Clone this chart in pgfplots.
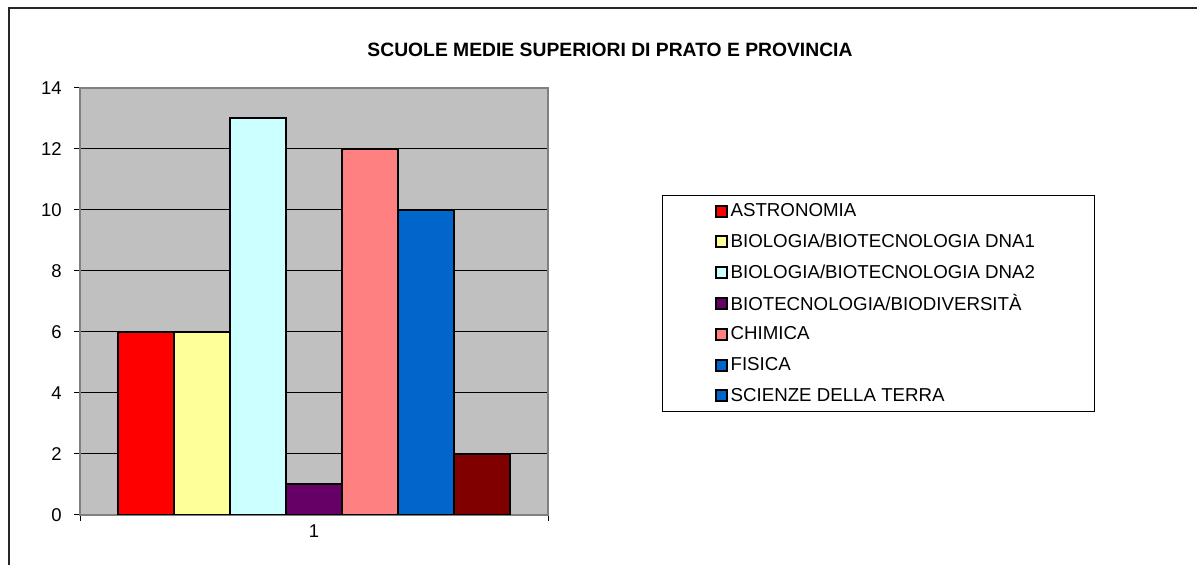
\documentclass[border=0pt]{standalone}
\usepackage{pgfplots}
\pgfplotsset{compat=1.18}
\usepackage{fontspec}
\setmainfont{Liberation Sans}
\definecolor{cA}{HTML}{FF0000}
\definecolor{cB}{HTML}{FFFF99}
\definecolor{cC}{HTML}{CCFFFF}
\definecolor{cD}{HTML}{660066}
\definecolor{cE}{HTML}{FF8080}
\definecolor{cF}{HTML}{0066CC}
\definecolor{cG}{HTML}{800000}
\definecolor{plotbg}{HTML}{C0C0C0}
\definecolor{plotborder}{HTML}{808080}
\newcommand{\legbox}[1]{\makebox[364pt][l]{#1}}
\begin{document}
\fontsize{15.4}{18}\selectfont
\begin{tikzpicture}[x=1pt,y=1pt]
\path[use as bounding box] (0,0) rectangle (1197,565);
\draw[line width=1.5pt, black!85] (9,-5) -- (9,557) -- (1202,557);
\node[font=\bfseries\fontsize{19.3}{22}\selectfont] at (610,515) {SCUOLE MEDIE SUPERIORI DI PRATO E PROVINCIA};
\begin{axis}[
  at={(80pt,50pt)}, anchor=south west,
  scale only axis, width=468pt, height=427pt,
  ymin=0, ymax=14, ytick={0,2,...,14},
  xmin=-0.5, xmax=0.5,
  xtick={-0.5,0.5}, xticklabels={,},
  extra x ticks={0}, extra x tick labels={1},
  extra x tick style={major tick length=0pt},
  ytick pos=left, xtick pos=bottom,
  ybar=0pt, bar width=56pt,
  axis background/.style={fill=plotbg},
  axis line style={draw=plotborder, line width=2pt},
  ymajorgrids, grid style={black, line width=1pt},
  tick align=outside, major tick length=6pt,
  tick style={black, line width=1pt},
  /pgf/number format/assume math mode=true,
  ticklabel style={font=\fontsize{18.5}{21}\selectfont},
  yticklabel style={xshift=-7pt},
  xticklabel style={yshift=-4pt},
  legend cell align=left,
  legend image code/.code={%
    \path (-52pt,0pt) (14pt,0pt);
    \draw[#1,line width=2pt,draw=black] (0pt,-5.5pt) rectangle (11pt,5.5pt);},
  legend style={at={(1.2436,0.7494)}, anchor=north west,
    draw=black, line width=1.2pt, fill=white,
    inner xsep=0pt, inner ysep=0pt, row sep=0pt, column sep=0pt,
    nodes={inner sep=0pt, minimum height=30.8pt},
    font=\fontsize{18.7}{22}\selectfont},
  every axis plot/.append style={draw=black, line width=2pt},
]
\addplot[fill=cA] coordinates {(0,6)};
\addlegendentry{\legbox{ASTRONOMIA}}
\addplot[fill=cB] coordinates {(0,6)};
\addlegendentry{\legbox{BIOLOGIA/BIOTECNOLOGIA DNA1}}
\addplot[fill=cC] coordinates {(0,13)};
\addlegendentry{\legbox{BIOLOGIA/BIOTECNOLOGIA DNA2}}
\addplot[fill=cD] coordinates {(0,1)};
\addlegendentry{\legbox{BIOTECNOLOGIA/BIODIVERSITÀ}}
\addplot[fill=cE] coordinates {(0,12)};
\addlegendentry{\legbox{CHIMICA}}
\addplot[fill=cF] coordinates {(0,10)};
\addlegendentry{\legbox{FISICA}}
\addplot[fill=cG, legend image post style={fill=cF}] coordinates {(0,2)};
\addlegendentry{\legbox{SCIENZE DELLA TERRA}}
\end{axis}
\end{tikzpicture}
\end{document}
